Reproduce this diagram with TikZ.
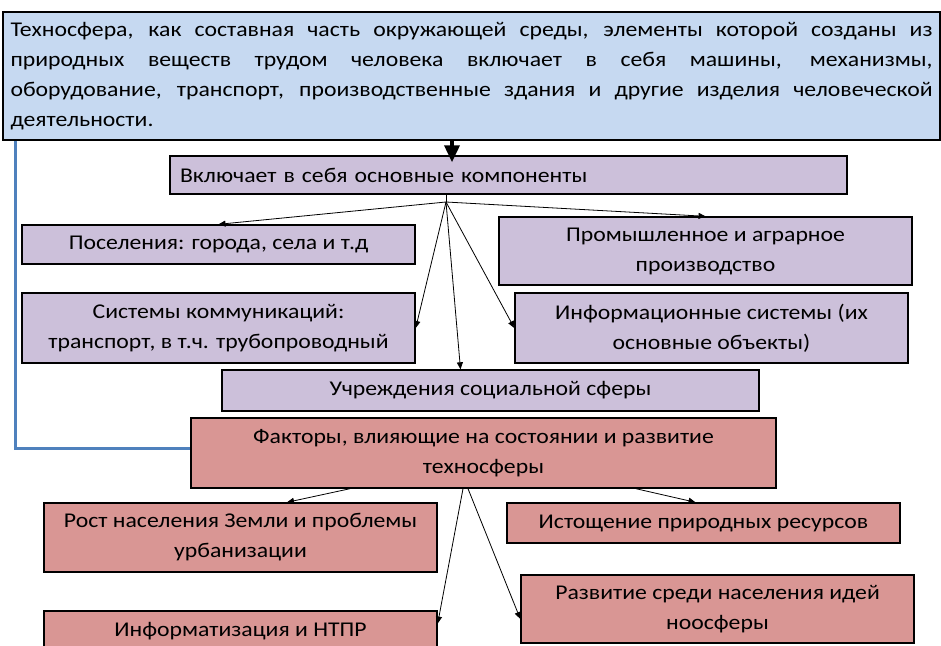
\documentclass[tikz,border=0pt]{standalone}
\usepackage{fontspec}
\setmainfont{Carlito}[FakeStretch=1.13]
\usetikzlibrary{arrows.meta}
\definecolor{skyfill}{RGB}{198,217,241}
\definecolor{lilacfill}{RGB}{204,192,218}
\definecolor{rosefill}{RGB}{217,150,148}
\definecolor{framblue}{RGB}{79,129,189}
\begin{document}
\begin{tikzpicture}[x=1pt,y=-1pt,
    box/.style={draw=black,line width=1.4pt,inner sep=0pt,align=center,font=\fontsize{21}{30}\selectfont},
    techbox/.style={box,fill=skyfill},
    partbox/.style={box,fill=lilacfill},
    factbox/.style={box,fill=rosefill},
    link/.style={-{Triangle[length=7pt,width=6pt]},line width=.8pt},
    bigarrow/.style={-{Triangle[length=17pt,width=15pt]},line width=3.5pt,shorten >=-7pt},
    frameline/.style={draw=framblue,line width=3pt}]
    \useasboundingbox (0,0) rectangle (941,645);
    %%L1 technosphere
    \node[techbox,text width=922pt,inner xsep=7.5pt,minimum height=128pt,align=justify] (techno) at (471.5,76)
        {Техносфера, как составная часть окружающей среды, элементы которой созданы из\linebreak
         природных веществ трудом человека включает в себя машины, механизмы,\linebreak
         оборудование, транспорт, производственные здания и другие изделия человеческой\linebreak
         деятельности.};
    \node[partbox,minimum width=677pt,minimum height=38pt,text width=657pt,align=left] (incl) at (508.5,175)
        {Включает в себя основные компоненты};
    %%L2 components
    \node[partbox,minimum width=393pt,minimum height=39pt] (settle) at (218.5,244.5) {Поселения: города, села и т.д};
    \node[partbox,minimum width=413pt,minimum height=68pt] (indus) at (705.5,251) {Промышленное и аграрное\\производство};
    \node[partbox,minimum width=393pt,minimum height=70pt] (comm) at (218.5,328) {Системы коммуникаций:\\транспорт, в т.ч. трубопроводный};
    \node[partbox,minimum width=393pt,minimum height=70pt] (infsys) at (711.5,328) {Информационные системы (их\\основные объекты)};
    \node[partbox,minimum width=537pt,minimum height=41pt] (social) at (490.5,390.5) {Учреждения социальной сферы};
    %%L3 factors
    \node[factbox,minimum width=585pt,minimum height=70pt] (factors) at (483.5,453) {Факторы, влияющие на состоянии и развитие\\техносферы};
    \node[factbox,minimum width=393pt,minimum height=69pt] (growth) at (240.5,537.5) {Рост населения Земли и проблемы\\урбанизации};
    \node[factbox,minimum width=393pt,minimum height=40pt] (deplet) at (703.5,523) {Истощение природных ресурсов};
    \node[factbox,minimum width=393pt,minimum height=68pt] (noos) at (717.5,609) {Развитие среди населения идей\\ноосферы};
    \node[factbox,minimum width=393pt,minimum height=41pt] (ntpr) at (240.5,631.5) {Информатизация и НТПР};

    % links
    \coordinate (drop) at (452,0);
    \coordinate (hub) at (446,202);
    \coordinate (bend) at (15,448);
    \draw[frameline] (techno.south -| bend) -- (bend) -- (bend -| factors.west);
    \draw[bigarrow] (techno.south -| drop) -- (incl.north -| drop);
    \draw[line width=.8pt] (incl.south -| hub) -- (hub);
    \draw[link] (hub) -- (settle.north);
    \draw[link] (hub) -- (indus.north);
    \draw[link] (hub) -- (comm.east);
    \draw[link] (hub) -- (infsys.west);
    \draw[link] (hub) -- ([xshift=-30pt]social.north);
    \draw[link] ([xshift=-133.5pt]factors.south) -- ([xshift=46.5pt]growth.north);
    \draw[link] ([xshift=152.5pt]factors.south) -- ([xshift=-8pt]deplet.north);
    \draw[link] ([xshift=-20.5pt]factors.south) -- ([yshift=8pt]ntpr.east);
    \draw[link] ([xshift=-15.5pt]factors.south) -- ([yshift=-10pt]noos.west);
\end{tikzpicture}
\end{document}
